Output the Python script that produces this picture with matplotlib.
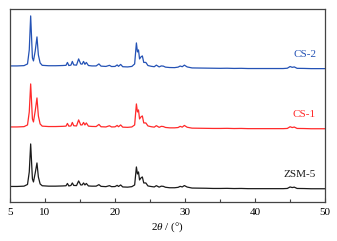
import numpy as np
import matplotlib.pyplot as plt
from matplotlib.ticker import FixedLocator

plt.rcParams['font.family'] = ['Liberation Serif', 'DejaVu Serif']
plt.rcParams['mathtext.fontset'] = 'custom'
plt.rcParams['mathtext.it'] = 'Liberation Serif:italic'
plt.rcParams['mathtext.rm'] = 'Liberation Serif'

# 2theta sampling points (deg)
two_theta = [5.0, 6.0, 7.0, 7.5, 7.75, 7.95, 8.2, 8.35, 8.6, 8.85, 9.05, 9.3, 9.6,
             10.5, 11.5, 12.5, 13.0, 13.2, 13.4, 13.7, 13.9, 14.1, 14.5, 14.8, 15.1,
             15.3, 15.5, 15.7, 15.9, 16.2, 16.7, 17.3, 17.7, 18.0, 18.7, 19.2, 19.5,
             20.0, 20.3, 20.5, 20.8, 21.1, 21.8, 22.4, 22.8, 23.05, 23.2, 23.35, 23.5,
             23.7, 23.9, 24.1, 24.4, 24.7, 25.2, 25.6, 25.9, 26.3, 26.6, 26.9, 27.2,
             27.8, 28.5, 29.0, 29.3, 29.6, 29.9, 30.3, 31.0, 32.0, 33.0, 34.0, 35.0,
             36.0, 37.0, 38.0, 39.0, 40.0, 41.0, 42.0, 43.0, 44.0, 44.6, 45.0, 45.3,
             45.6, 46.0, 47.0, 48.0, 49.0, 50.0]

# intensities (a.u.)
zsm5 = [2.5, 2.5, 2.8, 4.5, 17, 45, 10, 7, 16, 26, 12, 5, 3.2,
        2.8, 2.8, 3.0, 3.2, 5.5, 3, 3.5, 6, 3.5, 3.4, 8, 4,
        4, 6, 4, 5.5, 3, 2.8, 2.8, 4.3, 2.6, 2.3, 3.3, 2.3,
        2.4, 3.6, 2.5, 4, 2, 1.8, 2.3, 4, 22, 15, 17, 9,
        11, 12, 6, 6, 3, 2.4, 2, 3.3, 1.8, 2.8, 2.6, 1.7,
        1.2, 1.2, 1.6, 2.6, 2, 3.4, 1.9, 0.9, 0.8, 0.7, 0.5, 0.5,
        0.6, 0.4, 0.5, 0.3, 0.3, 0.3, 0.3, 0.3, 0.3, 0.5, 2, 1.4,
        1.8, 0.5, 0.4, 0.2, 0.2, 0.2]

cs1 = [2, 2, 2.3, 4, 17, 45, 10, 7, 18, 31, 13, 5, 2.8,
       2.4, 2.4, 2.6, 2.8, 5.5, 2.8, 3, 6.5, 3.2, 3, 9, 4,
       4, 6.5, 4, 6, 2.8, 2.5, 2.4, 4.5, 2.2, 2, 3.2, 2,
       2.1, 3.5, 2.2, 4, 1.8, 1.6, 2, 4, 25, 17, 19, 10,
       12, 13, 6, 6, 3, 2.2, 1.8, 3.3, 1.6, 2.6, 2.4, 1.5,
       1.1, 1.1, 1.4, 2.6, 1.8, 3.5, 1.7, 0.8, 0.7, 0.6, 0.5, 0.5,
       0.6, 0.4, 0.5, 0.3, 0.3, 0.3, 0.3, 0.3, 0.3, 0.5, 2.2, 1.4,
       1.9, 0.5, 0.4, 0.2, 0.2, 0.2]

cs2 = [3, 3, 3.3, 5, 19, 53, 11, 8, 18, 32, 14, 6, 3.6,
       3.2, 3.2, 3.4, 3.6, 6.5, 3.4, 3.8, 7.5, 4, 3.8, 10, 5,
       4.8, 7.5, 4.6, 6.5, 3.4, 3, 3, 5, 2.8, 2.5, 3.6, 2.4,
       2.5, 4, 2.6, 4.5, 2.2, 2, 2.5, 5, 26, 17, 19, 10,
       12, 13, 6.5, 6.5, 3.4, 2.6, 2.2, 3.8, 2, 3, 2.8, 1.8,
       1.4, 1.3, 1.8, 2.9, 2.2, 3.8, 2, 1, 0.9, 0.8, 0.7, 0.6,
       0.7, 0.5, 0.6, 0.4, 0.4, 0.4, 0.4, 0.4, 0.4, 0.7, 2.4, 1.6,
       2, 0.6, 0.5, 0.3, 0.3, 0.3]

labels = ['ZSM-5', 'CS-1', 'CS-2']
colors = ['#1a1a1a', '#ff2a2a', '#2452b5']
offsets = [13, 73, 133]

fig = plt.figure(figsize=(3.37, 2.41), dpi=100)
ax = fig.add_axes([0.0297, 0.162, 0.935, 0.801])

x = np.array(two_theta)
for y, lab, col, off in zip([zsm5, cs1, cs2], labels, colors, offsets):
    ax.plot(x, np.array(y) + off, color=col, lw=0.9)
    ax.text(48.7, off + 14, lab, color=col, fontsize=8, ha='right', va='center')

ax.set_xlim(5, 50)
ax.set_ylim(0, 193)
ax.set_yticks([])
ax.set_xticks([5, 10, 20, 30, 40, 50])
ax.xaxis.set_minor_locator(FixedLocator([15, 25, 35, 45]))
ax.tick_params(axis='x', which='major', direction='in', length=3, width=0.8,
               labelsize=8, pad=4, color='#444444')
ax.tick_params(axis='x', which='minor', direction='in', length=2, width=0.8,
               color='#444444')
ax.set_xlabel(r'2$\mathit{\theta}$ / (°)', fontsize=8, labelpad=3)
for s in ax.spines.values():
    s.set_color('#444444')
    s.set_linewidth(0.9)

fig.savefig('out.png', dpi=100)
